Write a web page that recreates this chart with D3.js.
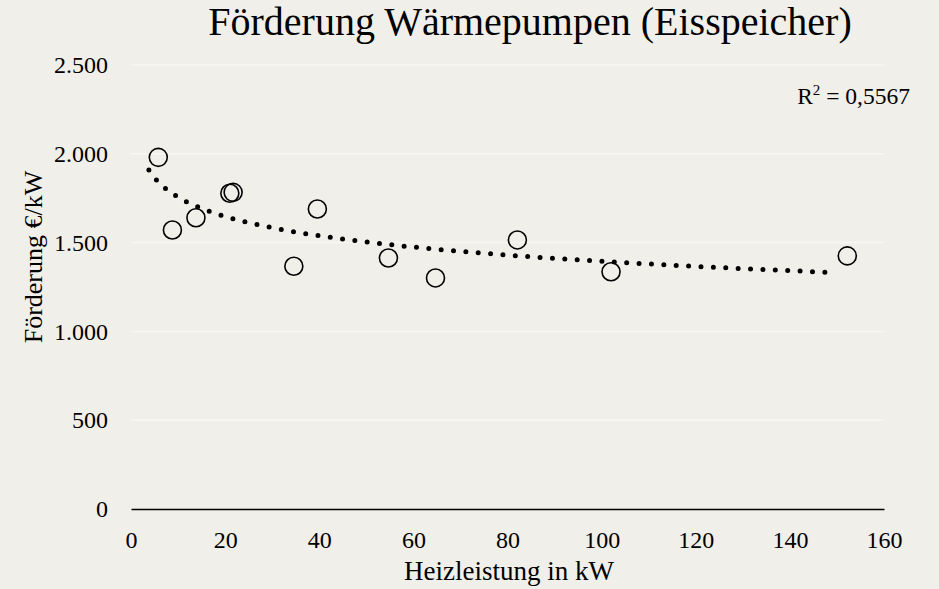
<!DOCTYPE html>
<html>
<head>
<meta charset="utf-8">
<script src="https://cdn.jsdelivr.net/npm/d3@7"></script>
<style>
  body { margin: 0; background: #f1efe9; }
  svg { display: block; font-family: "Liberation Serif", "DejaVu Serif", serif; }
</style>
</head>
<body>
<div id="chart"></div>
<script>
// Heizleistung (kW) and Förderung (€/kW)
const heizleistung = [5.8, 8.8, 13.8, 21.0, 21.7, 34.6, 39.6, 54.7, 64.7, 82.1, 102.0, 152.2];
const foerderung = [1980, 1571, 1640, 1778, 1783, 1367, 1689, 1413, 1301, 1515, 1336, 1425];
const xTicks = [0, 20, 40, 60, 80, 100, 120, 140, 160];
const yTicks = [0, 500, 1000, 1500, 2000, 2500];
const trendRange = [3.8, 150];
const r2Label = "0,5567";

const width = 939, height = 589;
const plotLeft = 131, plotRight = 884, plotTop = 65, plotBottom = 509;

const de = d3.formatLocale({ decimal: ",", thousands: ".", grouping: [3], currency: ["", " €"] });
const fmt = de.format(",d");

const x = d3.scaleLinear().domain([0, 160]).range([plotLeft, plotRight]);
const y = d3.scaleLinear().domain([0, 2500]).range([plotBottom, plotTop]);

const svg = d3.select("#chart").append("svg")
    .attr("width", width)
    .attr("height", height);

svg.append("rect").attr("width", width).attr("height", height).attr("fill", "#f1efe9");

// gridlines
svg.append("g")
    .selectAll("line")
    .data(yTicks.slice(1))
    .join("line")
    .attr("x1", plotLeft).attr("x2", plotRight)
    .attr("y1", d => y(d)).attr("y2", d => y(d))
    .attr("stroke", "#f8f7f4")
    .attr("stroke-width", 1.5);

// y axis labels
svg.append("g")
    .attr("transform", `translate(${plotLeft}, 0)`)
    .call(d3.axisLeft(y).tickValues(yTicks).tickFormat(fmt).tickSize(0).tickPadding(23))
    .call(g => g.select(".domain").remove())
    .call(g => g.selectAll("text").attr("font-size", 24).attr("fill", "#000")
        .attr("font-family", "Liberation Serif, serif"));

// x axis
svg.append("g")
    .attr("transform", `translate(0, ${plotBottom})`)
    .call(d3.axisBottom(x).tickValues(xTicks).tickSize(0).tickPadding(22))
    .call(g => g.select(".domain").attr("stroke", "#000").attr("stroke-width", 1.5))
    .call(g => g.selectAll("text").attr("font-size", 24).attr("fill", "#000")
        .attr("font-family", "Liberation Serif, serif"));

// logarithmic trendline, least squares on ln(x)
const lx = heizleistung.map(Math.log);
const mx = d3.mean(lx), my = d3.mean(foerderung);
const sxy = d3.sum(lx, (v, i) => (v - mx) * (foerderung[i] - my));
const sxx = d3.sum(lx, v => (v - mx) ** 2);
const slope = sxy / sxx, intercept = my - slope * mx;
const trendX = d3.range(trendRange[0], trendRange[1], 0.5).concat([trendRange[1]]);

svg.append("path")
    .datum(trendX)
    .attr("d", d3.line().x(d => x(d)).y(d => y(intercept + slope * Math.log(d))))
    .attr("fill", "none")
    .attr("stroke", "#000")
    .attr("stroke-width", 5)
    .attr("stroke-linecap", "round")
    .attr("stroke-dasharray", "0 12.4");

// points
svg.append("g")
    .selectAll("circle")
    .data(heizleistung)
    .join("circle")
    .attr("cx", d => x(d))
    .attr("cy", (d, i) => y(foerderung[i]))
    .attr("r", 9)
    .attr("fill", "none")
    .attr("stroke", "#000")
    .attr("stroke-width", 1.6);

// title and labels
svg.append("text")
    .attr("x", 530).attr("y", 35)
    .attr("text-anchor", "middle")
    .attr("font-size", 40)
    .text("Förderung Wärmepumpen (Eisspeicher)");

svg.append("text")
    .attr("x", 509).attr("y", 580)
    .attr("text-anchor", "middle")
    .attr("font-size", 27)
    .text("Heizleistung in kW");

svg.append("text")
    .attr("transform", `translate(42, 257) rotate(-90)`)
    .attr("text-anchor", "middle")
    .attr("font-size", 26)
    .text("Förderung €/kW");

const r2 = svg.append("text")
    .attr("x", 910).attr("y", 104)
    .attr("text-anchor", "end")
    .attr("font-size", 23.5);
r2.append("tspan").text("R");
r2.append("tspan").attr("dy", -9).attr("font-size", 15).text("2");
r2.append("tspan").attr("dy", 9).text(" = " + r2Label);
</script>
</body>
</html>
